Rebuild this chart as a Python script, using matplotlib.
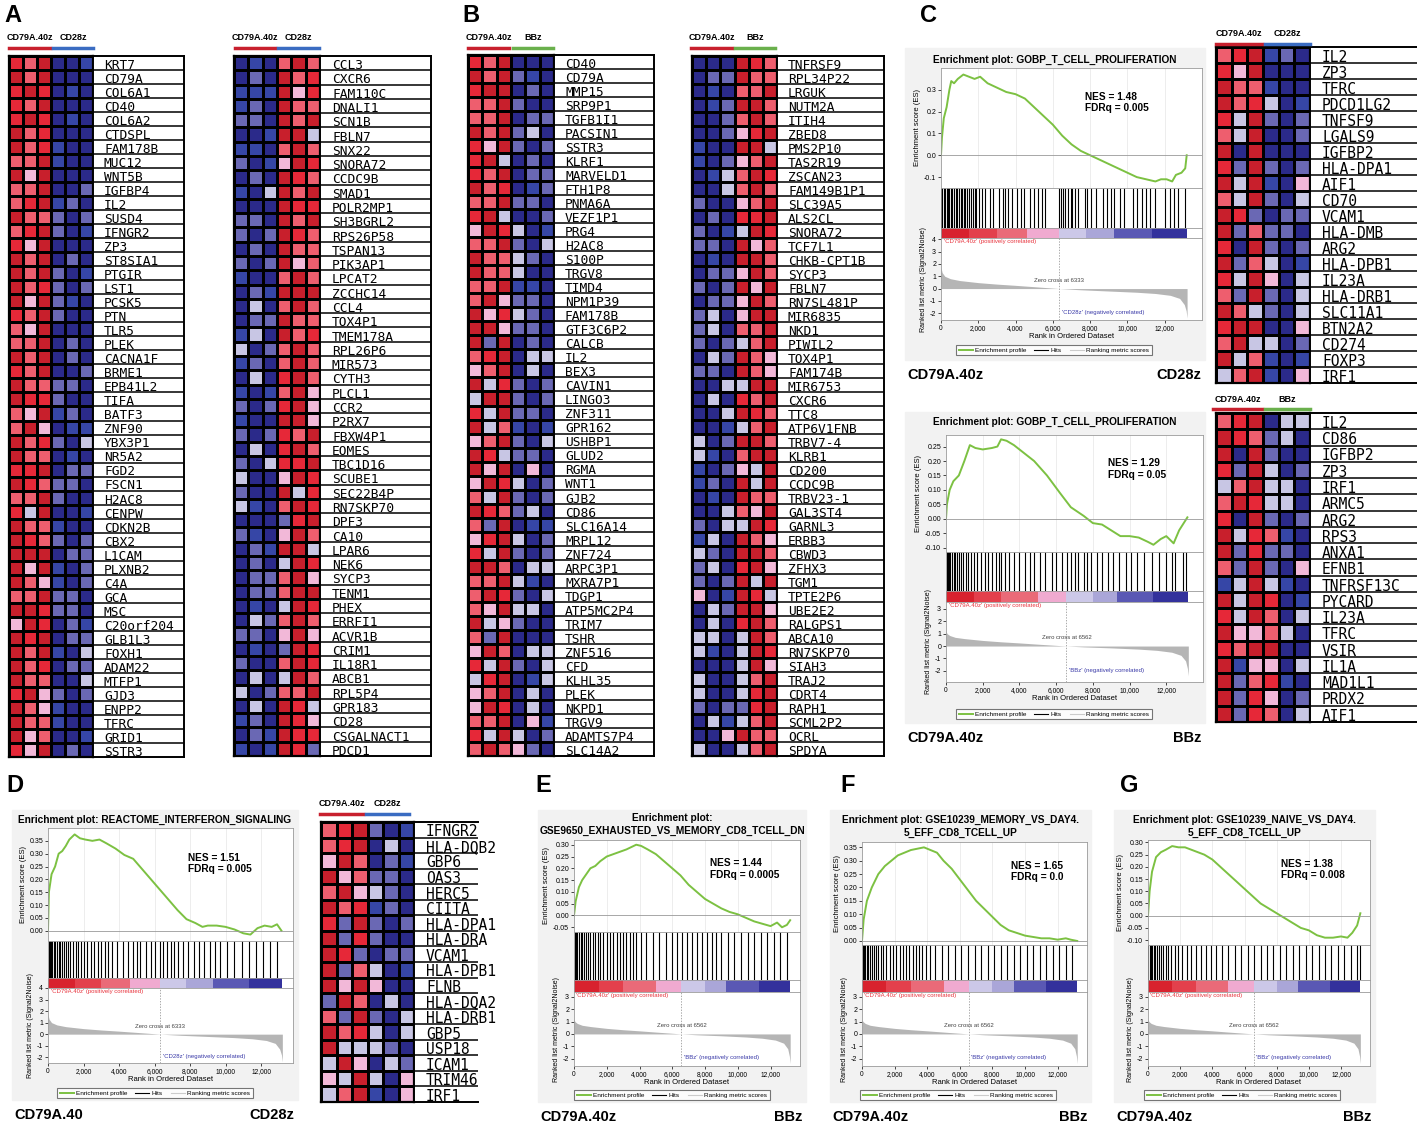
import numpy as np
import matplotlib
matplotlib.use("Agg")
import matplotlib.pyplot as plt
from matplotlib.colors import ListedColormap
from matplotlib.lines import Line2D
from matplotlib.patches import Rectangle

# ---- heatmap data: one string per gene, 6 samples, level 0 (dark blue) .. 7 (dark red)
A1_GENES = ["KRT7", "CD79A", "COL6A1", "CD40", "COL6A2", "CTDSPL", "FAM178B", "MUC12", "WNT5B",
            "IGFBP4", "IL2", "SUSD4", "IFNGR2", "ZP3", "ST8SIA1", "PTGIR", "LST1", "PCSK5", "PTN",
            "TLR5", "PLEK", "CACNA1F", "BRME1", "EPB41L2", "TIFA", "BATF3", "ZNF90", "YBX3P1",
            "NR5A2", "FGD2", "FSCN1", "H2AC8", "CENPW", "CDKN2B", "CBX2", "L1CAM", "PLXNB2", "C4A",
            "GCA", "MSC", "C20orf204", "GLB1L3", "FOXH1", "ADAM22", "MTFP1", "GJD3", "ENPP2",
            "TFRC", "GRID1", "SSTR3"]
A1_VALS = ["657001", "757000", "676010", "657000", "676010", "756000", "756100", "557100",
           "747000", "557002", "567120", "755202", "567201", "647000", "757020", "757201",
           "756202", "747210", "657200", "547000", "557020", "757020", "657002", "755220",
           "766200", "547120", "574011", "756203", "755010", "667022", "765220", "557200",
           "637001", "755100", "765202", "777022", "747102", "754102", "557220", "776220",
           "476021", "767022", "757103", "756022", "755003", "674202", "754100", "755100",
           "745001", "647020"]

A2_GENES = ["CCL3", "CXCR6", "FAM110C", "DNALI1", "SCN1B", "FBLN7", "SNX22", "SNORA72", "CCDC9B",
            "SMAD1", "POLR2MP1", "SH3BGRL2", "RPS26P58", "TSPAN13", "PIK3AP1", "LPCAT2", "ZCCHC14",
            "CCL4", "TOX4P1", "TMEM178A", "RPL26P6", "MIR573", "CYTH3", "PLCL1", "CCR2", "P2RX7",
            "FBXW4P1", "EOMES", "TBC1D16", "SCUBE1", "SEC22B4P", "RN7SKP70", "DPF3", "CA10",
            "LPAR6", "NEK6", "SYCP3", "TENM1", "PHEX", "ERRFI1", "ACVR1B", "CRIM1", "IL18R1",
            "ABCB1", "RPL5P4", "GPR183", "CD28", "CSGALNACT1", "PDCD1"]
A2_VALS = ["010575", "020756", "111746", "120755", "220757", "001773", "110575", "201476",
           "020765", "103757", "000766", "220757", "202765", "020755", "202745", "100575",
           "021777", "030575", "022755", "130756", "302575", "120575", "030675", "101574",
           "202674", "100774", "202657", "030675", "203667", "300476", "200736", "310576",
           "000267", "210475", "021773", "020376", "022574", "022577", "010376", "032575",
           "220474", "010276", "200576", "030375", "302557", "030763", "120764", "021766",
           "101762"]

B1_GENES = ["CD40", "CD79A", "MMP15", "SRP9P1", "TGFB1I1", "PACSIN1", "SSTR3", "KLRF1", "MARVELD1",
            "FTH1P8", "PNMA6A", "VEZF1P1", "PRG4", "H2AC8", "S100P", "TRGV8", "TIMD4", "NPM1P39",
            "FAM178B", "GTF3C6P2", "CALCB", "IL2", "BEX3", "CAVIN1", "LINGO3", "ZNF311", "GPR162",
            "USHBP1", "GLUD2", "RGMA", "WNT1", "GJB2", "CD86", "SLC16A14", "MRPL12", "ZNF724",
            "ARPC3P1", "MXRA7P1", "TDGP1", "ATP5MC2P4", "TRIM7", "TSHR", "ZNF516", "CFD", "KLHL35",
            "PLEK", "NKPD1", "TRGV9", "ADAMTS7P4", "SLC14A2"]
B1_VALS = ["657000", "757210", "677020", "557200", "557022", "757230", "647202", "673020",
           "657022", "756012", "557220", "673002", "476301", "557203", "755320", "755300",
           "557110", "574220", "746320", "774220", "727020", "567033", "457030", "736202",
           "377202", "637220", "735101", "457203", "763220", "747040", "476302", "537202",
           "765230", "527011", "467302", "637202", "775033", "557310", "576203", "547330",
           "734200", "527000", "475033", "637203", "367013", "457030", "476030", "557041",
           "637302", "575420"]

B2_GENES = ["TNFRSF9", "RPL34P22", "LRGUK", "NUTM2A", "ITIH4", "ZBED8", "PMS2P10", "TAS2R19",
            "ZSCAN23", "FAM149B1P1", "SLC39A5", "ALS2CL", "SNORA72", "TCF7L1", "CHKB-CPT1B",
            "SYCP3", "FBLN7", "RN7SL481P", "MIR6835", "NKD1", "PIWIL2", "TOX4P1", "FAM174B",
            "MIR6753", "CXCR6", "TTC8", "ATP6V1FNB", "TRBV7-4", "KLRB1", "CD200", "CCDC9B",
            "TRBV23-1", "GAL3ST4", "GARNL3", "ERBB3", "CBWD3", "ZFHX3", "TGM1", "TPTE2P6",
            "UBE2E2", "RALGPS1", "ABCA10", "RN7SKP70", "SIAH3", "TRAJ2", "CDRT4", "RAPH1",
            "SCML2P2", "OCRL", "SPDYA"]
B2_VALS = ["000765", "022755", "010557", "012775", "002575", "002467", "100773", "102457",
           "013576", "003575", "200457", "020667", "201376", "220745", "010775", "022475",
           "202747", "022475", "230477", "230557", "202357", "032754", "220754", "003377",
           "030657", "003765", "001357", "302775", "310577", "102437", "120737", "010755",
           "003547", "203376", "130754", "320775", "230674", "202737", "401763", "032774",
           "030675", "330375", "310376", "000374", "300357", "300367", "202267", "031357",
           "004755", "300357"]

C1_GENES = ["IL2", "ZP3", "TFRC", "PDCD1LG2", "TNFSF9", "LGALS9", "IGFBP2", "HLA-DPA1", "AIF1",
            "CD70", "VCAM1", "HLA-DMB", "ARG2", "HLA-DPB1", "IL23A", "HLA-DRB1", "SLC11A1",
            "BTN2A2", "CD274", "FOXP3", "IRF1"]
C1_VALS = ["567120", "647000", "755100", "756301", "637202", "537002", "707000", "627202",
           "737104", "537203", "762022", "725220", "607202", "725301", "637403", "527203",
           "753203", "677004", "573302", "735101", "357104"]

C2_GENES = ["IL2", "CD86", "IGFBP2", "ZP3", "IRF1", "ARMC5", "ARG2", "RPS3", "ANXA1", "EFNB1",
            "TNFRSF13C", "PYCARD", "IL23A", "TFRC", "VSIR", "IL1A", "MAD1L1", "PRDX2", "AIF1"]
C2_VALS = ["567033", "765230", "707200", "627302", "357330", "576330", "607202", "736510",
           "726220", "527204", "137310", "737601", "637503", "744530", "657700", "714403",
           "725610", "726402", "726503"]

D_GENES = ["IFNGR2", "HLA-DQB2", "GBP6", "OAS3", "HERC5", "CIITA", "HLA-DPA1", "HLA-DRA", "VCAM1",
           "HLA-DPB1", "FLNB", "HLA-DQA2", "HLA-DRB1", "GBP5", "USP18", "ICAM1", "TRIM46", "IRF1"]
D_VALS = ["567201", "567030", "475021", "745220", "574320", "756120", "627202", "726200",
          "762022", "725301", "747400", "275030", "527203", "756303", "733320", "374032",
          "437304", "357104"]

# ---- GSEA running enrichment scores (rank, ES)
C1_ES_X = [0, 50, 150, 300, 450, 550, 700, 900, 1200, 1500, 1800, 2100, 2500, 3000, 3500, 4000,
           4500, 5000, 5500, 6000, 6500, 7000, 7500, 8000, 8500, 9000, 9500, 10000, 10500, 11000,
           11500, 11800, 12100, 12400, 12600, 12900, 13100, 13180]
C1_ES_Y = [0.0, 0.08, 0.17, 0.22, 0.3, 0.34, 0.33, 0.35, 0.37, 0.36, 0.35, 0.36, 0.33, 0.31, 0.29,
           0.28, 0.26, 0.22, 0.18, 0.14, 0.09, 0.05, 0.02, 0.0, -0.02, -0.04, -0.06, -0.08, -0.1,
           -0.11, -0.12, -0.11, -0.11, -0.12, -0.09, -0.08, -0.06, 0.0]
C2_ES_X = [0, 50, 200, 400, 700, 1000, 1300, 1600, 2000, 2500, 2800, 3000, 3300, 3700, 4200, 4800,
           5500, 6200, 6800, 7500, 8000, 8500, 9000, 9500, 10000, 10500, 11000, 11300, 11700,
           12000, 12400, 12700, 13000, 13150]
C2_ES_Y = [0.0, 0.05, 0.1, 0.13, 0.15, 0.2, 0.255, 0.245, 0.24, 0.245, 0.25, 0.275, 0.27, 0.255,
           0.23, 0.2, 0.15, 0.09, 0.04, 0.01, -0.015, -0.02, -0.04, -0.06, -0.06, -0.065, -0.08,
           -0.09, -0.07, -0.06, -0.085, -0.04, -0.01, 0.005]
D_ES_X = [0, 50, 200, 400, 600, 800, 1000, 1200, 1500, 1800, 2100, 2500, 2900, 3300, 3800, 4300,
          4800, 5300, 5800, 6300, 6800, 7300, 7800, 8300, 8700, 9000, 9500, 10000, 10500, 11000,
          11400, 11800, 12200, 12600, 12900, 13150]
D_ES_Y = [0.0, 0.15, 0.22, 0.25, 0.3, 0.31, 0.33, 0.355, 0.375, 0.36, 0.355, 0.35, 0.355, 0.34,
          0.32, 0.295, 0.28, 0.24, 0.2, 0.16, 0.12, 0.08, 0.045, 0.03, 0.015, 0.02, 0.02, 0.015,
          0.005, -0.01, -0.015, 0.01, 0.02, 0.015, 0.025, 0.0]
E_ES_X = [0, 100, 300, 500, 800, 1000, 1300, 1600, 2000, 2400, 2800, 3200, 3500, 3800, 4100, 4500,
          5000, 5500, 6000, 6500, 7000, 7500, 8000, 8500, 9000, 9500, 10000, 10500, 11000, 11500,
          12000, 12400, 12700, 13000, 13200]
E_ES_Y = [0.0, 0.06, 0.12, 0.15, 0.18, 0.2, 0.21, 0.23, 0.25, 0.26, 0.27, 0.28, 0.29, 0.3, 0.295,
          0.28, 0.26, 0.23, 0.2, 0.17, 0.13, 0.1, 0.07, 0.05, 0.03, 0.015, 0.005, -0.01, -0.025,
          -0.035, -0.045, -0.03, -0.05, -0.04, -0.02]
F_ES_X = [0, 100, 300, 600, 1000, 1400, 1800, 2200, 2600, 3000, 3400, 3800, 4200, 4600, 5000, 5500,
          6000, 6500, 7000, 7500, 8000, 8500, 9000, 9500, 10000, 10500, 11000, 11500, 12000, 12500,
          12800, 13200]
F_ES_Y = [0.0, 0.08, 0.15, 0.2, 0.25, 0.28, 0.3, 0.32, 0.33, 0.34, 0.345, 0.35, 0.34, 0.33, 0.3,
          0.27, 0.23, 0.19, 0.15, 0.12, 0.09, 0.06, 0.04, 0.03, 0.02, 0.015, 0.01, 0.01, 0.005,
          0.01, 0.005, 0.0]
G_ES_X = [0, 100, 250, 500, 800, 1100, 1500, 1900, 2300, 2700, 3100, 3500, 4000, 4500, 5000, 5500,
          6000, 6500, 7000, 7500, 8000, 8500, 9000, 9500, 10000, 10500, 11000, 11500, 12000, 12400,
          12700, 13000, 13200]
G_ES_Y = [0.0, 0.1, 0.18, 0.24, 0.26, 0.27, 0.285, 0.28, 0.28, 0.27, 0.26, 0.25, 0.23, 0.2, 0.17,
          0.14, 0.11, 0.08, 0.05, 0.03, 0.01, -0.01, -0.03, -0.05, -0.06, -0.08, -0.09, -0.09,
          -0.085, -0.09, -0.07, -0.04, 0.01]

# ---- hit positions (rank of gene-set members)
C1_HITS = [20, 80, 150, 210, 300, 380, 450, 520, 600, 700, 780, 850, 950, 1050, 1150, 1230, 1300,
           1380, 1500, 1600, 1700, 1800, 1900, 2050, 2200, 2350, 2650, 2800, 3100, 3300, 3450,
           3600, 3800, 4100, 4300, 4450, 4800, 5000, 5200, 5400, 5600, 6350, 6450, 6550, 6650,
           6800, 6950, 7050, 7200, 7350, 7700, 7850, 8050, 8300, 8700, 8900, 9100, 9300, 9600,
           9800, 10300, 10500, 10800, 11000, 11200, 11500, 12000, 12300, 12500, 12700, 13100]
C2_HITS = [30, 90, 160, 240, 330, 420, 500, 600, 700, 820, 950, 1080, 1200, 1350, 1500, 1700, 1900,
           2100, 2300, 2500, 2700, 2900, 3000, 3200, 3450, 3700, 4000, 4300, 4600, 4800, 5100, 5400,
           5800, 6000, 6300, 6600, 6800, 7000, 7200, 7500, 7700, 7900, 8200, 8500, 8800, 9100,
           9400, 9800, 10100, 10400, 10800, 11200, 11600, 12000, 12300, 12500, 12900, 13100]
D_HITS = [30, 90, 160, 250, 330, 420, 520, 600, 700, 800, 900, 1000, 1150, 1250, 1400, 1550, 1700,
          1850, 2000, 2200, 2400, 2600, 2800, 3000, 3200, 3400, 3600, 3900, 4200, 4500, 4800, 5000,
          5200, 5500, 5800, 6050, 6300, 6500, 6700, 6900, 7100, 7300, 7600, 7900, 8200, 8500,
          8800, 9100, 9400, 9700, 10100, 10500, 10900, 11300, 11700, 12100, 12500, 12900]
E_HITS = [40, 120, 200, 300, 400, 500, 620, 750, 880, 1000, 1150, 1300, 1450, 1600, 1800, 2000,
          2200, 2400, 2600, 2800, 3000, 3200, 3400, 3600, 3800, 4100, 4400, 4800, 5200, 5600,
          6000, 6300, 6600, 6900, 7200, 7500, 7800, 8100, 8400, 8700, 9000, 9400, 9800, 10200,
          10600, 11000, 11400, 11800, 12200, 12600, 13000]
F_HITS = [40, 110, 190, 280, 380, 480, 600, 720, 850, 1000, 1150, 1300, 1500, 1700, 1900, 2100,
          2300, 2500, 2700, 2900, 3100, 3300, 3500, 3700, 3900, 4200, 4500, 4900, 5300, 5700,
          6100, 6500, 6900, 7300, 7700, 8100, 8500, 8900, 9300, 9700, 10100, 10500, 10900,
          11300, 11700, 12100, 12500, 12900]
G_HITS = [30, 100, 180, 260, 350, 450, 560, 680, 800, 950, 1100, 1250, 1450, 1650, 1850, 2100,
          2400, 2700, 3000, 3300, 3600, 3900, 4200, 4600, 5000, 5400, 5800, 6200, 6600, 7000,
          7400, 7800, 8200, 8600, 9000, 9400, 9800, 10200, 10600, 11000, 11400, 11800, 12200,
          12600, 13000, 13150]

# ---- ranked list metric (Signal2Noise) along the ordered dataset
MET_CD28_X = [0, 60, 200, 500, 1000, 2000, 3000, 4000, 5000, 6333, 7500, 9000, 10500, 11500, 12300,
              12800, 13050, 13150, 13200]
MET_CD28_Y = [1.7, 1.3, 1.0, 0.8, 0.65, 0.48, 0.36, 0.26, 0.15, 0.0, -0.1, -0.2, -0.3, -0.4, -0.55,
              -0.8, -1.3, -1.8, -2.4]
MET_BBZ_X = [0, 60, 200, 500, 1000, 2000, 3000, 4000, 5000, 6562, 7500, 9000, 10500, 11500, 12300,
             12800, 13050, 13150, 13200]
MET_BBZ_Y = [1.2, 1.0, 0.85, 0.7, 0.6, 0.45, 0.34, 0.25, 0.15, 0.0, -0.07, -0.15, -0.25, -0.35,
             -0.5, -0.75, -1.2, -1.8, -2.4]
BAND_CD28 = [0, 1500, 3000, 4600, 6333, 7800, 9300, 11300, 13200]
BAND_BBZ = [0, 1500, 3000, 5000, 6562, 8000, 9300, 11300, 13200]

# ---- style
W, H = 1417, 1123
RED, BLUE, GREEN = "#c8202e", "#3a6cc2", "#6ab04c"
CMAP = ListedColormap(["#2b2a8a", "#3646a6", "#6a68b4", "#c8c6e4",
                       "#f2b8d8", "#ee5e6e", "#e62838", "#c81f2c"])
BAND_COLS = ["#d8222e", "#e3404c", "#ea6a78", "#f0aad0", "#ccc8e8", "#aaa6d8", "#5a58b4", "#33319c"]
ES_GREEN = "#7cc142"
SANS = "Liberation Sans"
MONO = "DejaVu Sans Mono"

fig = plt.figure(figsize=(W / 100, H / 100), dpi=100)


def box(x0, y0, x1, y1):
    return [x0 / W, 1 - y1 / H, (x1 - x0) / W, (y1 - y0) / H]


def ftext(x, y, s, **kw):
    kw.setdefault("family", SANS)
    fig.text(x / W, 1 - y / H, s, **kw)


def fline(x0, x1, y, color, lw=2.5):
    fig.add_artist(Line2D([x0 / W, x1 / W], [1 - y / H, 1 - y / H], color=color, lw=lw))


def header(y, groups):
    for x0, x1, label, col in groups:
        ftext((x0 + x1) / 2, y - 10, label, ha="center", va="center", fontsize=6.5, weight="bold")
        fline(x0, x1, y, col)


def heatmap(x0, x1, y0, y1, tx1, genes, vals, fs, pad, right=True):
    n = len(genes)
    data = np.array([[int(c) for c in r] for r in vals])
    ax = fig.add_axes(box(x0, y0, x1, y1))
    ax.pcolormesh(data, cmap=CMAP, vmin=-0.5, vmax=7.5, edgecolors="black", linewidth=0.8)
    ax.set_xlim(0, 6); ax.set_ylim(n, 0)
    ax.set_xticks([]); ax.set_yticks([])
    for s in ax.spines.values():
        s.set_linewidth(1.6)
    tx = fig.add_axes(box(x1, y0, tx1, y1))
    tx.set_xlim(0, tx1 - x1); tx.set_ylim(n, 0)
    tx.set_xticks([]); tx.set_yticks([])
    for i in range(1, n):
        tx.axhline(i, color="black", lw=1.1)
    for i, g in enumerate(genes):
        tx.text(pad, i + 0.92, g, va="baseline", ha="left", fontsize=fs, family=MONO)
    tx.spines["right"].set_visible(right)
    for s in tx.spines.values():
        s.set_linewidth(1.4)


def gsea(bg, title, title_y, ex, ey, es_x, es_y, ylim, yticks, hits, band, met_x, met_y,
         met_lim, met_ticks, zero, neg, stats, sxy, leg, left_lab, right_lab, xmax=13800):
    bx0, by0, bx1, by1 = bg
    fig.add_artist(Rectangle((bx0 / W, 1 - by1 / H), (bx1 - bx0) / W, (by1 - by0) / H,
                             transform=fig.transFigure, color="#f2f2f2", zorder=0))
    for k, line in enumerate(title):
        ftext((bx0 + bx1) / 2, title_y + 13 * k, line, ha="center", va="center",
              fontsize=7.3, weight="bold")
    x0, x1 = ex
    e0, e1, h1, b1, m1 = ey
    # running enrichment score
    ax = fig.add_axes(box(x0, e0, x1, e1))
    ax.plot(es_x, es_y, color=ES_GREEN, lw=1.4)
    ax.axhline(0, color="#999999", lw=0.6)
    ax.set_xlim(0, xmax); ax.set_ylim(*ylim)
    ax.set_xticks(range(2000, 13000, 2000)); ax.set_xticklabels([])
    ax.grid(axis="x", color="#e6e6e6", lw=0.5)
    ax.tick_params(axis="x", length=0)
    ax.set_yticks(yticks)
    fmt = "{:.1f}" if len(yticks) < 7 else "{:.2f}"
    ax.set_yticklabels([fmt.format(v) for v in yticks], fontsize=5, family=SANS)
    ax.tick_params(axis="y", length=2, width=0.5, pad=1.5)
    ax.set_ylabel("Enrichment score (ES)", fontsize=5.5, family=SANS, labelpad=2)
    ax.text(sxy[0], sxy[1], stats, transform=ax.transAxes, ha="left", va="top",
            fontsize=7.3, weight="bold", family=SANS, linespacing=1.15)
    # hits
    hx = fig.add_axes(box(x0, e1, x1, h1))
    hx.vlines(hits, 0, 1, color="black", lw=0.8)
    hx.set_xlim(0, xmax); hx.set_ylim(0, 1)
    hx.set_xticks([]); hx.set_yticks([])
    # colour band
    cx = fig.add_axes(box(x0, h1, x1, b1))
    for a, b, c in zip(band[:-1], band[1:], BAND_COLS):
        cx.axvspan(a, b, color=c, lw=0)
    cx.set_xlim(0, xmax); cx.set_xticks([]); cx.set_yticks([])
    # ranked list metric
    mx = fig.add_axes(box(x0, b1, x1, m1))
    mx.fill_between(met_x, met_y, 0, color="#b5b5b5", lw=0)
    mx.axvline(zero, color="#888888", lw=0.5, ls=(0, (2, 2)))
    mx.set_xlim(0, xmax); mx.set_ylim(*met_lim)
    mx.set_yticks(met_ticks)
    mx.set_yticklabels([str(v) for v in met_ticks], fontsize=5, family=SANS)
    mx.set_xticks(range(0, 13000, 2000))
    mx.set_xticklabels([f"{v:,}" for v in range(0, 13000, 2000)], fontsize=4.8, family=SANS)
    mx.tick_params(length=2, width=0.5, pad=1.5)
    mx.set_xlabel("Rank in Ordered Dataset", fontsize=5.5, family=SANS, labelpad=1)
    mx.set_ylabel("Ranked list metric (Signal2Noise)", fontsize=5, family=SANS, labelpad=2)
    mx.text(150, met_lim[1] - 0.1, "'CD79A.40z' (positively correlated)", color="#e8323c",
            fontsize=4.3, family=SANS, va="top")
    mx.text(zero, 0.45, f"Zero cross at {zero}", color="#444444", fontsize=4.3,
            family=SANS, ha="center", va="bottom")
    mx.text(zero + 150, met_ticks[-1] + 0.05, f"'{neg}' (negatively correlated)", color="#3a3aa8",
            fontsize=4.3, family=SANS, va="center")
    for a in (ax, hx, cx, mx):
        for s in a.spines.values():
            s.set_color("#9a9a9a"); s.set_linewidth(0.6)
    # legend
    handles = [Line2D([], [], color=ES_GREEN, lw=1.4), Line2D([], [], color="black", lw=0.8),
               Line2D([], [], color="#cccccc", lw=0.8)]
    lg = fig.legend(handles, ["Enrichment profile", "Hits", "Ranking metric scores"],
                    loc="center", bbox_to_anchor=(leg[0] / W, 1 - leg[1] / H), ncol=3,
                    fontsize=4.6, frameon=True, fancybox=False, handlelength=2.2,
                    columnspacing=1.2, handletextpad=0.4, borderpad=0.35,
                    prop={"family": SANS, "size": 4.6})
    lg.get_frame().set_edgecolor("#555555"); lg.get_frame().set_linewidth(0.8)
    ftext(bx0 + 2, by1 + 15, left_lab, ha="left", va="center", fontsize=10.5, weight="bold")
    ftext(bx1 - 4, by1 + 15, right_lab, ha="right", va="center", fontsize=10.5, weight="bold")


# ---- panel letters
for x, y, s in [(4, 16, "A"), (462, 16, "B"), (920, 16, "C"), (6, 785, "D"),
                (535, 785, "E"), (840, 785, "F"), (1120, 785, "G")]:
    ftext(x, y, s, ha="left", va="center", fontsize=17, weight="bold")

# ---- heatmaps
header(48, [(9, 50, "CD79A.40z", RED), (53, 93, "CD28z", BLUE)])
heatmap(9, 93, 56, 757, 184, A1_GENES, A1_VALS, 9.3, 11)
header(48, [(235, 275, "CD79A.40z", RED), (278, 319, "CD28z", BLUE)])
heatmap(234, 320, 56, 756, 431, A2_GENES, A2_VALS, 9.3, 12)
header(48, [(468, 509, "CD79A.40z", RED), (513, 553, "BBz", GREEN)])
heatmap(468, 554, 55, 756, 654, B1_GENES, B1_VALS, 9.3, 11)
header(48, [(691, 732, "CD79A.40z", RED), (735, 775, "BBz", GREEN)])
heatmap(692, 777, 56, 756, 884, B2_GENES, B2_VALS, 9.3, 11)
header(44, [(1216, 1262, "CD79A.40z", RED), (1265, 1310, "CD28z", BLUE)])
heatmap(1216, 1310, 47, 383, 1417, C1_GENES, C1_VALS, 10.5, 12, right=False)
header(409, [(1213, 1262, "CD79A.40z", RED), (1265, 1310, "BBz", GREEN)])
heatmap(1216, 1310, 413, 722, 1417, C2_GENES, C2_VALS, 10.5, 12, right=False)
header(814, [(320, 363, "CD79A.40z", RED), (366, 409, "CD28z", BLUE)])
heatmap(321, 414, 822, 1102, 478, D_GENES, D_VALS, 10.5, 12, right=False)

# ---- GSEA enrichment plots
gsea((905, 48, 1205, 360), ["Enrichment plot: GOBP_T_CELL_PROLIFERATION"], 60,
     (941, 1202), (68, 188, 228, 238, 320), C1_ES_X, C1_ES_Y, (-0.15, 0.40),
     [-0.1, 0.0, 0.1, 0.2, 0.3], C1_HITS, BAND_CD28, MET_CD28_X, MET_CD28_Y, (-2.55, 4.1),
     [4, 3, 2, 1, 0, -1, -2], 6333, "CD28z", "NES = 1.48\nFDRq = 0.005", (0.55, 0.80),
     (1054, 350), "CD79A.40z", "CD28z", xmax=14000)
gsea((905, 412, 1205, 723), ["Enrichment plot: GOBP_T_CELL_PROLIFERATION"], 422,
     (946, 1203), (435, 552, 591, 602, 682), C2_ES_X, C2_ES_Y, (-0.115, 0.29),
     [-0.10, -0.05, 0.0, 0.05, 0.10, 0.15, 0.20, 0.25], C2_HITS, BAND_BBZ, MET_BBZ_X, MET_BBZ_Y,
     (-2.9, 3.55), [3, 2, 1, 0, -1, -2], 6562, "BBz", "NES = 1.29\nFDRq = 0.05", (0.63, 0.80),
     (1054, 714), "CD79A.40z", "BBz", xmax=14000)
gsea((12, 810, 298, 1100), ["Enrichment plot: REACTOME_INTERFERON_SIGNALING"], 820,
     (48, 293), (828, 941, 978, 988, 1063), D_ES_X, D_ES_Y, (-0.04, 0.40),
     [0.0, 0.05, 0.10, 0.15, 0.20, 0.25, 0.30, 0.35], D_HITS, BAND_CD28, MET_CD28_X, MET_CD28_Y,
     (-2.5, 4.0), [4, 3, 2, 1, 0, -1, -2], 6333, "CD28z", "NES = 1.51\nFDRq = 0.005",
     (0.57, 0.78), (155, 1093), "CD79A.40", "CD28z")
gsea((538, 810, 806, 1102), ["Enrichment plot:", "GSE9650_EXHAUSTED_VS_MEMORY_CD8_TCELL_DN"], 818,
     (574, 800), (840, 932, 980, 992, 1066), E_ES_X, E_ES_Y, (-0.07, 0.32),
     [-0.05, 0.0, 0.05, 0.10, 0.15, 0.20, 0.25, 0.30], E_HITS, BAND_BBZ, MET_BBZ_X, MET_BBZ_Y,
     (-2.6, 3.4), [3, 2, 1, 0, -1, -2], 6562, "BBz", "NES = 1.44\nFDRq = 0.0005", (0.6, 0.80),
     (672, 1095), "CD79A.40z", "BBz")
gsea((830, 810, 1091, 1102), ["Enrichment plot: GSE10239_MEMORY_VS_DAY4.", "5_EFF_CD8_TCELL_UP"],
     820, (862, 1087), (842, 945, 980, 992, 1066), F_ES_X, F_ES_Y, (-0.015, 0.37),
     [0.0, 0.05, 0.10, 0.15, 0.20, 0.25, 0.30, 0.35], F_HITS, BAND_BBZ, MET_BBZ_X, MET_BBZ_Y,
     (-2.6, 3.4), [3, 2, 1, 0, -1, -2], 6562, "BBz", "NES = 1.65\nFDRq = 0.0", (0.66, 0.82),
     (958, 1095), "CD79A.40z", "BBz")
gsea((1114, 810, 1375, 1102), ["Enrichment plot: GSE10239_NAIVE_VS_DAY4.", "5_EFF_CD8_TCELL_UP"],
     820, (1148, 1370), (840, 945, 980, 992, 1066), G_ES_X, G_ES_Y, (-0.12, 0.31),
     [-0.10, -0.05, 0.0, 0.05, 0.10, 0.15, 0.20, 0.25, 0.30], G_HITS, BAND_BBZ, MET_BBZ_X,
     MET_BBZ_Y, (-2.6, 3.4), [3, 2, 1, 0, -1, -2], 6562, "BBz", "NES = 1.38\nFDRq = 0.008",
     (0.6, 0.82), (1242, 1095), "CD79A.40z", "BBz")

fig.savefig("out.png", dpi=100)
